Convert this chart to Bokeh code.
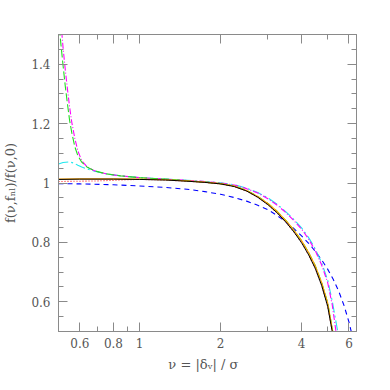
from bokeh.plotting import figure
from bokeh.models import LogAxis, LinearAxis, FixedTicker, CustomJSTickFormatter, Range1d
from bokeh.embed import file_html
from bokeh.resources import INLINE

# ---- ticks ----
x_ticks = [0.6, 0.8, 1, 2, 4, 6]
x_minor = [0.5, 0.7, 0.9, 3, 5]
y_ticks = [0.6, 0.8, 1.0, 1.2, 1.4]
y_minor = [0.5, 0.55, 0.65, 0.7, 0.75, 0.85, 0.9, 0.95, 1.05, 1.1, 1.15, 1.25, 1.3, 1.35, 1.45, 1.5]

# ---- data ----
black_nu = [0.5, 0.6, 0.8, 1.0, 1.25, 1.5, 1.75, 2.0, 2.25, 2.5, 2.75, 3.0, 3.25, 3.5, 3.75, 4.0, 4.25, 4.5, 4.75, 5.0, 5.2, 5.4]
black_f = [1.012, 1.013, 1.013, 1.012, 1.010, 1.006, 1.002, 0.997, 0.988, 0.973, 0.952, 0.927, 0.899, 0.868, 0.835, 0.799, 0.758, 0.712, 0.655, 0.585, 0.50, 0.41]

orange_nu = [0.5, 0.6, 0.8, 1.0, 1.25, 1.5, 1.75, 2.0, 2.25, 2.5, 2.75, 3.0, 3.25, 3.5, 3.75, 4.0, 4.25, 4.5, 4.75, 5.0, 5.2, 5.4]
orange_f = [1.013, 1.014, 1.014, 1.013, 1.011, 1.007, 1.003, 0.998, 0.990, 0.975, 0.955, 0.931, 0.904, 0.873, 0.841, 0.806, 0.766, 0.721, 0.665, 0.597, 0.51, 0.425]

red_nu = [0.5, 0.6, 0.7, 0.8, 0.9, 1.0, 1.25, 1.5, 1.75, 2.0, 2.25, 2.5, 2.75, 3.0, 3.25, 3.5, 3.75, 4.0, 4.25, 4.5, 4.75, 5.0, 5.2, 5.4]
red_f = [1.005, 1.006, 1.007, 1.009, 1.011, 1.012, 1.010, 1.006, 1.002, 0.997, 0.988, 0.973, 0.952, 0.927, 0.899, 0.868, 0.835, 0.799, 0.758, 0.712, 0.655, 0.585, 0.50, 0.41]

green_nu = [0.5, 0.51, 0.52, 0.53, 0.54, 0.55, 0.56, 0.575, 0.59, 0.61, 0.64, 0.68, 0.75, 0.85, 1.0, 1.25, 1.5, 1.75, 2.0, 2.25, 2.5, 2.75, 3.0, 3.25, 3.5, 3.75, 4.0, 4.25, 4.5, 4.75, 5.0, 5.2, 5.4]
green_f = [1.56, 1.47, 1.395, 1.325, 1.265, 1.21, 1.17, 1.122, 1.092, 1.070, 1.053, 1.041, 1.031, 1.024, 1.018, 1.013, 1.008, 1.003, 0.998, 0.990, 0.975, 0.955, 0.931, 0.904, 0.873, 0.841, 0.806, 0.766, 0.721, 0.665, 0.597, 0.51, 0.425]

mag_nu = [0.505, 0.515, 0.52, 0.53, 0.54, 0.55, 0.56, 0.575, 0.59, 0.61, 0.64, 0.68, 0.75, 0.85, 1.0, 1.25, 1.5, 1.75, 2.0, 2.25, 2.5, 2.75, 3.0, 3.25, 3.5, 3.75, 4.0, 4.25, 4.5, 4.75, 5.0, 5.2, 5.37, 5.5]
mag_f = [1.62, 1.5, 1.455, 1.38, 1.315, 1.255, 1.205, 1.15, 1.108, 1.075, 1.054, 1.041, 1.031, 1.024, 1.018, 1.013, 1.009, 1.005, 1.0, 0.993, 0.981, 0.966, 0.947, 0.925, 0.900, 0.873, 0.845, 0.811, 0.772, 0.724, 0.665, 0.59, 0.5, 0.43]

cyan_nu = [0.5, 0.52, 0.55, 0.57, 0.59, 0.61, 0.635, 0.68, 0.75, 0.85, 1.0, 1.25, 1.5, 1.75, 2.0, 2.25, 2.5, 2.75, 3.0, 3.25, 3.5, 3.75, 4.0, 4.25, 4.5, 4.75, 5.0, 5.2, 5.45, 5.6]
cyan_f = [1.064, 1.069, 1.071, 1.067, 1.06, 1.054, 1.048, 1.040, 1.031, 1.024, 1.018, 1.013, 1.009, 1.005, 1.001, 0.994, 0.983, 0.968, 0.950, 0.928, 0.903, 0.877, 0.849, 0.816, 0.778, 0.731, 0.674, 0.603, 0.5, 0.44]

blue_nu = [0.5, 0.6, 0.8, 1.0, 1.25, 1.5, 1.75, 2.0, 2.25, 2.5, 2.75, 3.0, 3.25, 3.5, 3.75, 4.0, 4.25, 4.5, 4.75, 5.0, 5.25, 5.5, 5.75, 6.0, 6.1, 6.2]
blue_f = [0.998, 0.997, 0.994, 0.990, 0.985, 0.979, 0.971, 0.962, 0.951, 0.939, 0.925, 0.91, 0.89, 0.869, 0.846, 0.822, 0.797, 0.77, 0.741, 0.71, 0.675, 0.635, 0.588, 0.532, 0.505, 0.475]

FONT = "DejaVu Serif"
AX = "#8a8a8a"
TXT = "#555555"

p = figure(x_axis_type="log", x_range=Range1d(0.5, 6.4), y_range=Range1d(0.5, 1.5),
           frame_width=298, frame_height=297, output_backend="svg", toolbar_location=None,
           min_border_left=52, min_border_top=34, min_border_right=20, min_border_bottom=40)
p.grid.visible = False
p.outline_line_color = AX
p.background_fill_color = "white"

xt = FixedTicker(ticks=x_ticks, minor_ticks=x_minor)
yt = FixedTicker(ticks=y_ticks, minor_ticks=y_minor)
fmt = CustomJSTickFormatter(code="return tick.toString();")
blank = CustomJSTickFormatter(code="return '';")

def style(ax):
    ax.axis_line_color = AX
    ax.major_tick_line_color = AX
    ax.minor_tick_line_color = AX
    ax.major_tick_in = 9
    ax.major_tick_out = 0
    ax.minor_tick_in = 5
    ax.minor_tick_out = 0
    ax.major_label_text_font = FONT
    ax.major_label_text_font_size = "12px"
    ax.major_label_text_color = TXT
    ax.axis_label_text_font = FONT
    ax.axis_label_text_font_size = "13px"
    ax.axis_label_text_color = TXT
    ax.axis_label_text_font_style = "normal"

xa = p.xaxis[0]
xa.ticker = xt
xa.formatter = fmt
style(xa)
xa.major_label_standoff = 6
xa.axis_label = "ν  =  |δᵥ| / σ"
xa.axis_label_standoff = 6

ya = p.yaxis[0]
ya.ticker = yt
ya.formatter = fmt
style(ya)
ya.major_label_standoff = 8
ya.axis_label = "f(ν,fₙₗ)/f(ν,0)"
ya.axis_label_standoff = 10

top = LogAxis(ticker=xt, formatter=blank)
style(top)
p.add_layout(top, "above")
right = LinearAxis(ticker=yt, formatter=blank)
style(right)
p.add_layout(right, "right")

p.line(blue_nu, blue_f, line_color="#0000ff", line_width=1.1, line_dash="5 4")
p.line(cyan_nu, cyan_f, line_color="#1ee8ee", line_width=1.1, line_dash="10 3 2 3")
p.line(mag_nu, mag_f, line_color="#ff00ff", line_width=1.1, line_dash="6 2 1 2")
p.line(green_nu, green_f, line_color="#22dd22", line_width=1.1, line_dash="8 3")
p.line(red_nu, red_f, line_color="#ff2020", line_width=1.1, line_dash="1 2")
p.line(orange_nu, orange_f, line_color="#ffa500", line_width=1.1)
p.line(black_nu, black_f, line_color="black", line_width=1.0)

open("out.html", "w").write(file_html(p, INLINE))
